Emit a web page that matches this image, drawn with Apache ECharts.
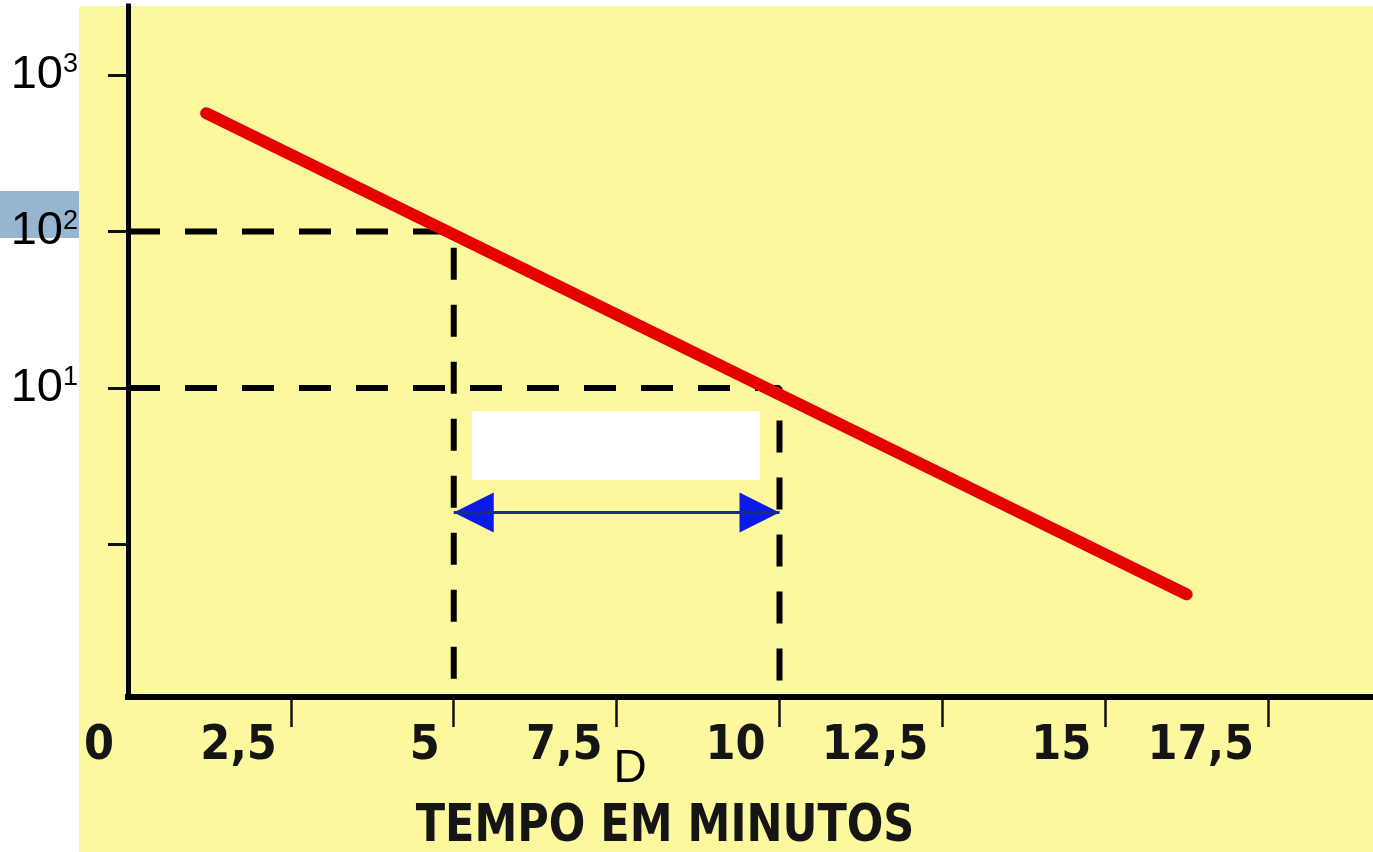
<!DOCTYPE html>
<html>
<head>
<meta charset="utf-8">
<script src="https://cdn.jsdelivr.net/npm/echarts@6/dist/echarts.min.js"></script>
<style>
  html, body { margin: 0; padding: 0; background: #fff; }
  #main { width: 1373px; height: 852px; }
</style>
</head>
<body>
<div id="main"></div>
<script>
// 红色直线 (存活曲线)
var timeMin = [1.2, 16.25];
var survivors = [570, 0.48];
// 虚线 D 值
var dTimes = [5, 10];
var dCounts = [100, 10];
// 双箭头高度
var arrowCount = 1.6;
// 刻度
var xTickValues = [2.5, 5, 7.5, 10, 12.5, 15, 17.5];
var xLabelValues = [0, 2.5, 5, 7.5, 10, 12.5, 15, 17.5];
var yTickValues = [1, 10, 100, 1000];
var yLabelValues = [10, 100, 1000];

var chart = echarts.init(document.getElementById('main'));

var option = {
  backgroundColor: '#ffffff',
  animation: false,
  grid: { left: 128, right: 0, top: 6, bottom: 155 },
  xAxis: {
    type: 'value',
    min: 0,
    max: 19.11,
    splitLine: { show: false },
    axisLine: { onZero: false, lineStyle: { color: '#000', width: 6, cap: 'square' } },
    axisTick: { customValues: xTickValues, length: 30, lineStyle: { color: '#111', width: 2.5 } },
    axisLabel: {
      customValues: xLabelValues,
      margin: 50,
      align: 'right',
      verticalAlign: 'middle',
      padding: [0, 14, 0, 0],
      color: '#151515',
      fontSize: 48,
      fontWeight: 'bold',
      fontFamily: 'DejaVu Sans Condensed, DejaVu Sans',
      formatter: function (v) { return String(v).replace('.', ','); }
    }
  },
  yAxis: {
    type: 'log',
    logBase: 10,
    min: 0.106,
    max: 2761,
    splitLine: { show: false },
    axisLine: { lineStyle: { color: '#000', width: 5, cap: 'square' } },
    axisTick: { customValues: yTickValues, length: 20, lineStyle: { color: '#111', width: 3 } },
    axisLabel: {
      customValues: yLabelValues,
      margin: 50,
      formatter: function (v) {
        return '{b|10}{s|' + Math.round(Math.log10(v)) + '}';
      },
      rich: {
        b: { fontSize: 47, lineHeight: 47, color: '#000', fontFamily: 'Liberation Sans' },
        s: { fontSize: 27, lineHeight: 27, color: '#000', fontFamily: 'Liberation Sans', verticalAlign: 'top' }
      }
    }
  },
  graphic: [
    { type: 'rect', z: -10, shape: { x: 79, y: 6, width: 1294, height: 846 }, style: { fill: '#fdf89e' } },
    { type: 'rect', z: -9, shape: { x: 0, y: 191, width: 79, height: 47 }, style: { fill: '#95b5d1' } },
    { type: 'rect', z: 100, shape: { x: 472, y: 411, width: 288, height: 69 }, style: { fill: '#ffffff' } },
    { type: 'text', z: 100, x: 630, y: 769, style: {
        text: 'D', fill: '#000', font: '46px Liberation Sans', textAlign: 'center', textVerticalAlign: 'middle' } },
    { type: 'text', z: 100, x: 665, y: 827, scaleX: 0.92, style: {
        text: 'TEMPO EM MINUTOS', fill: '#151515', font: 'bold 52px DejaVu Sans Condensed, DejaVu Sans',
        textAlign: 'center', textVerticalAlign: 'middle' } }
  ],
  series: [
    {
      type: 'line',
      symbol: 'none',
      lineStyle: { color: '#000', width: 6, type: [32, 25] },
      data: [[0, dCounts[0]], [dTimes[0], dCounts[0]], [dTimes[0], 0.106]]
    },
    {
      type: 'line',
      symbol: 'none',
      lineStyle: { color: '#000', width: 6, type: [32, 25] },
      data: [[0, dCounts[1]], [dTimes[1], dCounts[1]], [dTimes[1], 0.106]]
    },
    {
      type: 'line',
      symbol: 'none',
      lineStyle: { color: '#e60000', width: 12, cap: 'round' },
      data: [[timeMin[0], survivors[0]], [timeMin[1], survivors[1]]]
    },
    {
      type: 'line',
      symbol: 'none',
      lineStyle: { color: '#1c2a8a', width: 3 },
      data: [[dTimes[0], arrowCount], [dTimes[1], arrowCount]]
    },
    {
      type: 'scatter',
      symbol: 'triangle',
      symbolSize: [40, 40],
      itemStyle: { color: '#0a1ae8', opacity: 1 },
      data: [
        { value: [dTimes[0], arrowCount], symbolRotate: 90, symbolOffset: [20, 0] },
        { value: [dTimes[1], arrowCount], symbolRotate: -90, symbolOffset: [-20, 0] }
      ]
    }
  ]
};

chart.setOption(option);
</script>
</body>
</html>
